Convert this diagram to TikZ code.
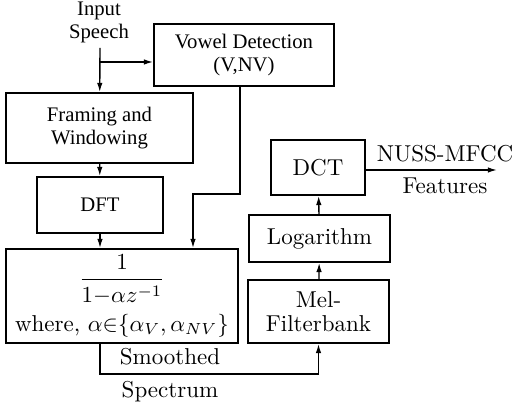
\documentclass[tikz,border=0pt]{standalone}
\usepackage{amsmath, amssymb}
\usepackage{fontspec}
\usepackage{tikz}
\usetikzlibrary{positioning}
\usetikzlibrary{arrows.meta}
\newfontfamily\tms{Liberation Serif}
\newcommand{\tmstext}{\tms\fontsize{9}{10}\selectfont}

\tikzset{
  blk/.style={draw, line width=0.8pt, align=center, inner sep=1pt},
  flow/.style={line width=0.6pt, -{Latex[length=4pt,width=2.4pt]}}
}

\begin{document}
\begin{tikzpicture}[x=0.435pt,y=-0.435pt]
\useasboundingbox (0,0) rectangle (516,407);
%%%%%%%%%%%%%%%%%%%%%%%%%%%%%%%%%
\node[align=center,font=\tmstext] (speech) at (99,22) {Input\\Speech};
\coordinate (in) at (100,48);
\coordinate (br) at (100,62);
\node[blk,font=\tmstext,minimum width=78.3pt,minimum height=27pt] (vowel) at (244,55) {Vowel Detection\\(V,NV)};
\node[blk,font=\tmstext,minimum width=81.3pt,minimum height=30.5pt] (frame) at (99.5,128) {Framing and\\Windowing};
\node[blk,font=\tmstext,minimum width=54.8pt,minimum height=24.4pt] (dft) at (100,205) {DFT};
\node[blk,minimum width=100.9pt,minimum height=40.9pt] (smooth) at (122,296)
  {$\genfrac{}{}{0.8pt}{0}{1}{1{-}\alpha z^{-1}}$\\[3pt] where, $\alpha{\in}\{\alpha_V,\alpha_{NV}\}$};
%%%%%%%%%%%%%%%%%%%%%%%%%%%%%%%%%
\node[blk,minimum width=61.3pt,minimum height=27.4pt,font={\fontsize{10}{10.5}\selectfont}] (mel) at (318.5,311.5) {Mel-\hspace{6pt}\\Filterbank};
\node[blk,minimum width=61.3pt,minimum height=20.4pt] (log) at (319.5,238.5) {Logarithm};
\node[blk,minimum width=40.9pt,minimum height=23.9pt] (dct) at (318,167.5) {DCT};
\coordinate (out) at (497,170);
\node[above] (nuss) at (445,170) {NUSS-MFCC};
\node[below] (feat) at (445,170) {Features};
\coordinate (bend) at (240,194);
\coordinate (mid) at (193,194);
\node[above] (smlab) at (170,373) {Smoothed};
\node[below] (splab) at (170,373) {Spectrum};
%%%%%%%%%%%%%%%%%%%%%%%%%%%%%%%%%
\draw[flow] (in) -- (frame);
\draw[flow] (br) -- (vowel.west |- br);
\draw[flow] (frame) -- (dft);
\draw[flow] (dft) -- (dft |- smooth.north);
\draw[flow] (vowel.south -| bend) -- (bend) -- (mid) -- (mid |- smooth.north);
\draw[flow] (smooth.south -| dft) -- ++(0,30) -| (mel.south);
\draw[flow] (mel) -- (log);
\draw[flow] (log) -- (dct);
\draw[flow] (dct.east |- out) -- (out);
\end{tikzpicture}
\end{document}
